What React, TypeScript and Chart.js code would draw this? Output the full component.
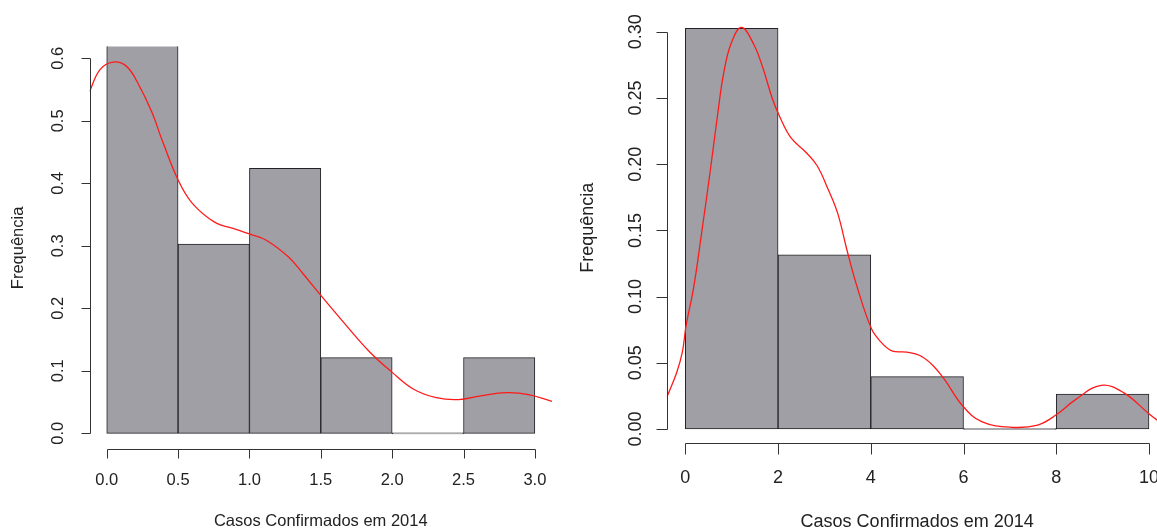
import React, { useEffect, useRef } from "react";
import { Chart, registerables } from "chart.js";

Chart.register(...registerables);

// ---------- Texts ----------
const xTitle = "Casos Confirmados em 2014";
const yTitle = "Frequência";

// ---------- Left histogram data ----------
const leftBreaks = [0, 0.5, 1.0, 1.5, 2.0, 2.5, 3.0];
const leftDensity = [1.03, 0.303, 0.424, 0.121, 0, 0.121];
const leftCurveX = [
  -0.12, -0.047, 0.044, 0.135, 0.212, 0.316, 0.393, 0.505, 0.6, 0.756, 0.911, 1.0, 1.118,
  1.274, 1.377, 1.496, 1.636, 1.843, 2.0, 2.154, 2.309, 2.464, 2.62, 2.8, 2.956, 3.12,
];
const leftCurveY = [
  0.547, 0.582, 0.594, 0.588, 0.563, 0.514, 0.466, 0.403, 0.368, 0.338, 0.326, 0.319, 0.309,
  0.282, 0.255, 0.222, 0.184, 0.13, 0.0975, 0.07, 0.057, 0.054, 0.06, 0.065, 0.062, 0.051,
];
const leftXTicks = [0, 0.5, 1.0, 1.5, 2.0, 2.5, 3.0];
const leftXTickLabels = ["0.0", "0.5", "1.0", "1.5", "2.0", "2.5", "3.0"];
const leftYTicks = [0, 0.1, 0.2, 0.3, 0.4, 0.5, 0.6];
const leftYTickLabels = ["0.0", "0.1", "0.2", "0.3", "0.4", "0.5", "0.6"];

// ---------- Right histogram data ----------
const rightBreaks = [0, 2, 4, 6, 8, 10];
const rightDensity = [0.3026, 0.1316, 0.0395, 0, 0.0263];
const rightCurveX = [
  -0.4, -0.186, -0.065, 0.016, 0.178, 0.339, 0.541, 0.702, 0.823, 0.985, 1.21, 1.469, 1.67,
  1.872, 2.034, 2.276, 2.6, 2.84, 3.08, 3.285, 3.487, 3.69, 4.01, 4.21, 4.455, 4.778, 5.06,
  5.34, 5.585, 5.99, 6.39, 7.04, 7.6, 8.0, 8.41, 8.97, 9.46, 10.0, 10.17, 10.4,
];
const rightCurveY = [
  0.024, 0.0427, 0.058, 0.078, 0.1066, 0.145, 0.196, 0.239, 0.268, 0.291, 0.3033, 0.291, 0.273,
  0.25, 0.236, 0.22, 0.209, 0.199, 0.181, 0.163, 0.135, 0.109, 0.076, 0.066, 0.059, 0.058, 0.0555,
  0.048, 0.0376, 0.0171, 0.0056, 0.0013, 0.003, 0.0107, 0.022, 0.033, 0.0273, 0.0115, 0.0069, 0.003,
];
const rightXTicks = [0, 2, 4, 6, 8, 10];
const rightXTickLabels = ["0", "2", "4", "6", "8", "10"];
const rightYTicks = [0, 0.05, 0.1, 0.15, 0.2, 0.25, 0.3];
const rightYTickLabels = ["0.00", "0.05", "0.10", "0.15", "0.20", "0.25", "0.30"];

// ---------- Styles ----------
const BAR_FILL = "#a09fa5";
const BAR_BORDER = "#222226";
const CURVE = "#ff1a1a";
const AXIS = "#333333";
const TEXT = "#222222";
const FONT_FAMILY = "'Liberation Sans', Arial, sans-serif";

type Panel = {
  breaks: number[];
  density: number[];
  curveX: number[];
  curveY: number[];
  xTicks: number[];
  xTickLabels: string[];
  yTicks: number[];
  yTickLabels: string[];
  canvasLeft: number;
  canvasWidth: number;
  padding: { left: number; right: number; top: number; bottom: number };
  xMin: number;
  xMax: number;
  yMin: number;
  yMax: number;
  font: number;
  tickLen: number;
  xLabelOff: number;
  yLabelOff: number;
  xTitleOff: number;
  yTitleOff: number;
};

const panels: Panel[] = [
  {
    breaks: leftBreaks,
    density: leftDensity,
    curveX: leftCurveX,
    curveY: leftCurveY,
    xTicks: leftXTicks,
    xTickLabels: leftXTickLabels,
    yTicks: leftYTicks,
    yTickLabels: leftYTickLabels,
    canvasLeft: 0,
    canvasWidth: 580,
    padding: { left: 89.6, right: 28, top: 46.5, bottom: 81.7 },
    xMin: -0.12,
    xMax: 3.12,
    yMin: -0.0256,
    yMax: 0.619,
    font: 16.5,
    tickLen: 9,
    xLabelOff: 31,
    yLabelOff: 31,
    xTitleOff: 72.5,
    yTitleOff: 71.5,
  },
  {
    breaks: rightBreaks,
    density: rightDensity,
    curveX: rightCurveX,
    curveY: rightCurveY,
    xTicks: rightXTicks,
    xTickLabels: rightXTickLabels,
    yTicks: rightYTicks,
    yTickLabels: rightYTickLabels,
    canvasLeft: 580,
    canvasWidth: 600,
    padding: { left: 86.8, right: 12.5, top: 12.3, bottom: 87.7 },
    xMin: -0.4,
    xMax: 10.4,
    yMin: -0.0108,
    yMax: 0.3147,
    font: 18,
    tickLen: 11,
    xLabelOff: 35,
    yLabelOff: 31,
    xTitleOff: 78.5,
    yTitleOff: 78.7,
  },
];

function makeAxesPlugin(p: Panel) {
  return {
    id: "rAxes",
    afterDraw(chart: any) {
      const ctx = chart.ctx as CanvasRenderingContext2D;
      const xs = chart.scales.x;
      const ys = chart.scales.y;
      const area = chart.chartArea;
      const snap = (v: number) => Math.round(v) + 0.5;
      ctx.save();
      ctx.strokeStyle = AXIS;
      ctx.lineWidth = 1;
      ctx.fillStyle = TEXT;
      ctx.font = `${p.font}px ${FONT_FAMILY}`;

      // X axis
      const yAx = snap(area.bottom);
      const x0 = snap(xs.getPixelForValue(p.xTicks[0]));
      const x1 = snap(xs.getPixelForValue(p.xTicks[p.xTicks.length - 1]));
      ctx.beginPath();
      ctx.moveTo(x0, yAx);
      ctx.lineTo(x1, yAx);
      p.xTicks.forEach((t) => {
        const px = snap(xs.getPixelForValue(t));
        ctx.moveTo(px, yAx);
        ctx.lineTo(px, yAx + p.tickLen);
      });
      ctx.stroke();
      ctx.textAlign = "center";
      ctx.textBaseline = "middle";
      p.xTicks.forEach((t, i) => {
        ctx.fillText(p.xTickLabels[i], xs.getPixelForValue(t), area.bottom + p.xLabelOff);
      });
      ctx.fillText(xTitle, (area.left + area.right) / 2, area.bottom + p.xTitleOff);

      // Y axis
      const xAx = snap(area.left);
      const yy0 = snap(ys.getPixelForValue(p.yTicks[0]));
      const yy1 = snap(ys.getPixelForValue(p.yTicks[p.yTicks.length - 1]));
      ctx.beginPath();
      ctx.moveTo(xAx, yy0);
      ctx.lineTo(xAx, yy1);
      p.yTicks.forEach((t) => {
        const py = snap(ys.getPixelForValue(t));
        ctx.moveTo(xAx, py);
        ctx.lineTo(xAx - p.tickLen, py);
      });
      ctx.stroke();
      p.yTicks.forEach((t, i) => {
        ctx.save();
        ctx.translate(area.left - p.yLabelOff, ys.getPixelForValue(t));
        ctx.rotate(-Math.PI / 2);
        ctx.fillText(p.yTickLabels[i], 0, 0);
        ctx.restore();
      });
      ctx.save();
      ctx.translate(area.left - p.yTitleOff, (area.top + area.bottom) / 2);
      ctx.rotate(-Math.PI / 2);
      ctx.fillText(yTitle, 0, 0);
      ctx.restore();

      ctx.restore();
    },
  };
}

function HistPanel({ p }: { p: Panel }) {
  const ref = useRef<HTMLCanvasElement | null>(null);
  useEffect(() => {
    if (!ref.current) return;
    const bars = p.density.map((d, i) => ({ x: (p.breaks[i] + p.breaks[i + 1]) / 2, y: d }));
    const curve = p.curveX.map((x, i) => ({ x, y: p.curveY[i] }));
    const chart = new Chart(ref.current, {
      type: "bar",
      data: {
        datasets: [
          {
            type: "line",
            data: curve,
            borderColor: CURVE,
            borderWidth: 1.3,
            pointRadius: 0,
            tension: 0.4,
            fill: false,
            order: 0,
            clip: 0,
          } as any,
          {
            type: "bar",
            data: bars,
            backgroundColor: BAR_FILL,
            borderColor: BAR_BORDER,
            borderWidth: 1,
            borderSkipped: false,
            barPercentage: 1,
            categoryPercentage: 1,
            minBarLength: 1,
            order: 1,
            clip: 0,
          } as any,
        ],
      },
      options: {
        responsive: false,
        animation: false,
        devicePixelRatio: 1,
        layout: { padding: p.padding },
        plugins: { legend: { display: false }, tooltip: { enabled: false } },
        events: [],
        scales: {
          x: { type: "linear", min: p.xMin, max: p.xMax, display: false, offset: false },
          y: { type: "linear", min: p.yMin, max: p.yMax, display: false },
        },
      },
      plugins: [makeAxesPlugin(p)],
    });
    return () => chart.destroy();
  }, [p]);
  return (
    <canvas
      ref={ref}
      width={p.canvasWidth}
      height={531}
      style={{ position: "absolute", left: p.canvasLeft, top: 0, width: p.canvasWidth, height: 531 }}
    />
  );
}

export default function App() {
  return (
    <div
      style={{
        position: "fixed",
        left: 0,
        top: 0,
        width: 1157,
        height: 531,
        overflow: "hidden",
        background: "#ffffff",
      }}
    >
      {panels.map((p, i) => (
        <HistPanel key={i} p={p} />
      ))}
    </div>
  );
}
